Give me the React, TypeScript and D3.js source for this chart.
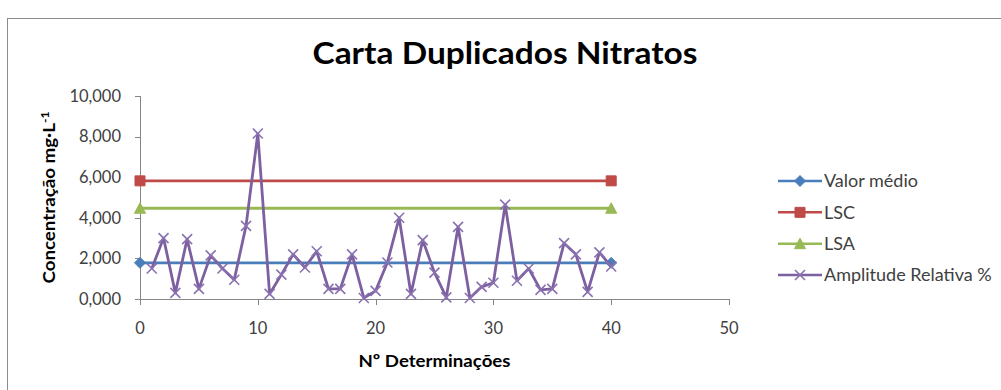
import React from 'react';
import * as d3 from 'd3';

// Determination number for each duplicate pair
const determinacoes = [
  1, 2, 3, 4, 5, 6, 7, 8, 9, 10,
  11, 12, 13, 14, 15, 16, 17, 18, 19, 20,
  21, 22, 23, 24, 25, 26, 27, 28, 29, 30,
  31, 32, 33, 34, 35, 36, 37, 38, 39, 40,
];
// Relative amplitude (%) of each duplicate pair
const amplitude = [
  1.5, 3.0, 0.3, 2.95, 0.5, 2.15, 1.5, 0.95, 3.6, 8.15,
  0.25, 1.2, 2.2, 1.55, 2.35, 0.5, 0.5, 2.2, 0.05, 0.4,
  1.8, 4.0, 0.25, 2.9, 1.3, 0.08, 3.55, 0.05, 0.6, 0.8,
  4.65, 0.9, 1.5, 0.45, 0.5, 2.75, 2.2, 0.35, 2.3, 1.6,
];
// Control lines, drawn between the first and last determination
const limitX = [0, 40];
const valorMedio = [1.78, 1.78];
const lsc = [5.82, 5.82];
const lsa = [4.47, 4.47];

const xTicks = [0, 10, 20, 30, 40, 50];
const yTicks = [0, 2, 4, 6, 8, 10];

const title = 'Carta Duplicados Nitratos';
const xTitle = 'Nº Determinações';

const W = 1001;
const H = 390;
const FONT = 'Lato, "Open Sans", sans-serif';

const BLUE = '#4A7EBB';
const RED = '#BE4B48';
const GREEN = '#98B954';
const PURPLE = '#7D60A0';

const ptFormat = d3.formatLocale({
  decimal: ',',
  thousands: '.',
  grouping: [3],
  currency: ['', ''],
}).format('.3f');

type Marker = 'diamond' | 'square' | 'triangle' | 'x';

function markerPath(kind: Marker, cx: number, cy: number): string {
  const p = d3.path();
  if (kind === 'diamond') {
    const r = 5.5;
    p.moveTo(cx, cy - r);
    p.lineTo(cx + r, cy);
    p.lineTo(cx, cy + r);
    p.lineTo(cx - r, cy);
    p.closePath();
  } else if (kind === 'square') {
    const r = 5;
    p.rect(cx - r, cy - r, 2 * r, 2 * r);
  } else if (kind === 'triangle') {
    const r = 5.5;
    p.moveTo(cx, cy - r);
    p.lineTo(cx + r, cy + r - 0.5);
    p.lineTo(cx - r, cy + r - 0.5);
    p.closePath();
  } else {
    const r = 5;
    p.moveTo(cx - r, cy - r);
    p.lineTo(cx + r, cy + r);
    p.moveTo(cx + r, cy - r);
    p.lineTo(cx - r, cy + r);
  }
  return p.toString();
}

function MarkerShape({ kind, cx, cy, color }: { kind: Marker; cx: number; cy: number; color: string }) {
  if (kind === 'x') {
    return <path d={markerPath(kind, cx, cy)} fill="none" stroke="#8A72B0" strokeWidth={1.6} />;
  }
  return <path d={markerPath(kind, cx, cy)} fill={color} stroke={color} strokeWidth={1} />;
}

export default function App() {
  const x = d3.scaleLinear().domain([0, 50]).range([140, 729]);
  const y = d3.scaleLinear().domain([0, 10]).range([299, 96]);

  const line = d3
    .line<[number, number]>()
    .x((d) => x(d[0]))
    .y((d) => y(d[1]));

  const ampPts: [number, number][] = determinacoes.map((d, i) => [d, amplitude[i]]);
  const series: { name: string; values: number[]; color: string; marker: Marker }[] = [
    { name: 'Valor médio', values: valorMedio, color: BLUE, marker: 'diamond' },
    { name: 'LSC', values: lsc, color: RED, marker: 'square' },
    { name: 'LSA', values: lsa, color: GREEN, marker: 'triangle' },
  ];

  const legendItems: { name: string; color: string; marker: Marker }[] = [
    ...series.map((s) => ({ name: s.name, color: s.color, marker: s.marker })),
    { name: 'Amplitude Relativa %', color: PURPLE, marker: 'x' },
  ];
  const legendY = d3.scaleLinear().domain([0, 3]).range([181, 275]);

  const axisColor = '#868686';
  const textColor = '#404040';

  return (
    <svg
      width={W}
      height={H}
      style={{ position: 'absolute', left: 0, top: 0, background: '#fff' }}
      fontFamily={FONT}
    >
      <rect x={0} y={0} width={W} height={H} fill="#fff" />
      {/* chart frame */}
      <rect x={7.5} y={18.5} width={W + 20} height={H + 20} fill="none" stroke="#8C8C8C" strokeWidth={1} />

      <text
        x={505}
        y={64}
        textAnchor="middle"
        fontSize={30}
        fontWeight={700}
        fill="#000"
        textLength={385}
        lengthAdjust="spacingAndGlyphs"
      >
        {title}
      </text>

      {/* y axis */}
      <line x1={140.5} x2={140.5} y1={y(10)} y2={y(0)} stroke={axisColor} strokeWidth={1} />
      {yTicks.map((t) => (
        <g key={`y${t}`}>
          <line x1={135} x2={140} y1={Math.round(y(t)) + 0.5} y2={Math.round(y(t)) + 0.5} stroke={axisColor} />
          <text x={121} y={y(t)} dy="0.35em" textAnchor="end" fontSize={16.5} fill={textColor}>
            {ptFormat(t)}
          </text>
        </g>
      ))}

      {/* x axis */}
      <line x1={x(0)} x2={x(50)} y1={299.5} y2={299.5} stroke={axisColor} strokeWidth={1} />
      {xTicks.map((t) => (
        <g key={`x${t}`}>
          <line x1={Math.round(x(t)) + 0.5} x2={Math.round(x(t)) + 0.5} y1={299} y2={305} stroke={axisColor} />
          <text x={x(t)} y={328} dy="0.35em" textAnchor="middle" fontSize={16.5} fill={textColor}>
            {t}
          </text>
        </g>
      ))}

      <text
        x={(x(0) + x(50)) / 2}
        y={361}
        dy="0.35em"
        textAnchor="middle"
        fontSize={17.5}
        fontWeight={700}
        fill="#000"
        textLength={152}
        lengthAdjust="spacingAndGlyphs"
      >
        {xTitle}
      </text>
      <text
        transform={`translate(49,${(y(0) + y(10)) / 2}) rotate(-90)`}
        dy="0.35em"
        textAnchor="middle"
        fontSize={17}
        fontWeight={700}
        fill="#000"
        textLength={172}
        lengthAdjust="spacingAndGlyphs"
      >
        Concentração mg·L
        <tspan dy="-0.55em" fontSize={11}>-1</tspan>
      </text>

      {/* control lines */}
      {series.map((s) => {
        const pts: [number, number][] = limitX.map((v, i) => [v, s.values[i]]);
        return (
          <g key={s.name}>
            <path d={line(pts) ?? ''} fill="none" stroke={s.color} strokeWidth={2.8} />
            {pts.map((p, i) => (
              <MarkerShape key={i} kind={s.marker} cx={x(p[0])} cy={y(p[1])} color={s.color} />
            ))}
          </g>
        );
      })}

      {/* relative amplitude */}
      <path d={line(ampPts) ?? ''} fill="none" stroke={PURPLE} strokeWidth={2.8} strokeLinejoin="round" />
      {ampPts.map((p, i) => (
        <MarkerShape key={i} kind="x" cx={x(p[0])} cy={y(p[1])} color={PURPLE} />
      ))}

      {/* legend */}
      {legendItems.map((it, i) => {
        const ly = legendY(i);
        return (
          <g key={it.name}>
            <line x1={778} x2={822} y1={ly} y2={ly} stroke={it.color} strokeWidth={2.5} />
            <MarkerShape kind={it.marker} cx={800} cy={ly} color={it.color} />
            <text x={824} y={ly} dy="0.35em" fontSize={18} fill={textColor}>
              {it.name}
            </text>
          </g>
        );
      })}
    </svg>
  );
}
